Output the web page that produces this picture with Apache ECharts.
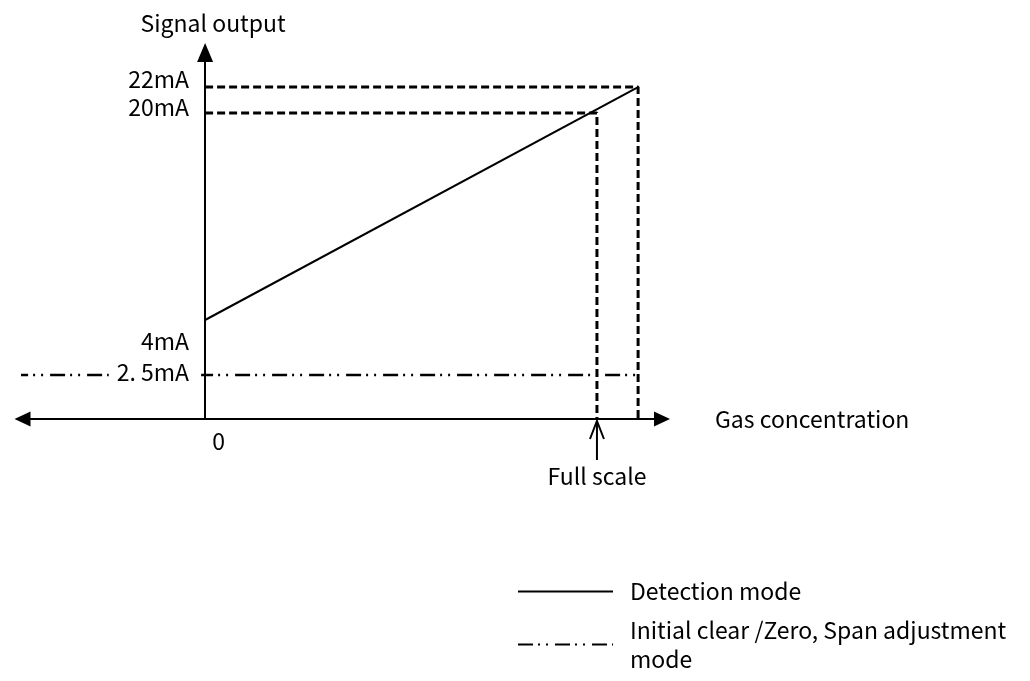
<!DOCTYPE html>
<html>
<head>
<meta charset="utf-8">
<script src="https://cdn.jsdelivr.net/npm/echarts@6/dist/echarts.min.js"></script>
<style>
  html, body { margin: 0; padding: 0; background: #fff; }
  #chart { width: 1030px; height: 681px; }
</style>
</head>
<body>
<div id="chart"></div>
<script>
// ---- data ----
const xTickValues = [0, 100];                 // % of full scale
const xTickLabels = ['0', 'Full scale'];
const yTickValues = [2.5, 4, 20, 22];         // mA
const yTickLabels = ['2. 5mA', '4mA', '20mA', '22mA'];

const detectionX = [0, 110.5];
const detectionY = [4, 22];
const clearX = [-49, 110.5];
const clearY = [2.5, 2.5];
const guide20X = [0, 100, 100];
const guide20Y = [20, 20, -0.9];
const guide22X = [0, 110.5, 110.5];
const guide22Y = [22, 22, -0.9];

const seriesNames = ['Detection mode', 'Initial clear /Zero, Span adjustment mode'];
const fullScaleValue = 100;

const xRange = [-46.6, 116.6];
const yRange = [-0.9, 24.67];

const FONT = 'Noto Sans CJK JP';
const FS = 23;
const GRID_LEFT = 22.5;
const pairs = (xs, ys) => xs.map((x, i) => [x, ys[i]]);

const chart = echarts.init(document.getElementById('chart'), null, { renderer: 'canvas' });

const txt = (extra) => Object.assign({ fontFamily: FONT, fontSize: FS, color: '#000' }, extra);

const option = {
  backgroundColor: '#fff',
  animation: false,
  textStyle: { fontFamily: FONT, color: '#000' },
  grid: { left: GRID_LEFT, right: 368, top: 52.5, bottom: 262, containLabel: false, outerBoundsMode: 'none' },
  xAxis: {
    type: 'value',
    min: xRange[0], max: xRange[1],
    name: 'Gas concentration',
    nameLocation: 'end',
    nameGap: 53,
    nameTextStyle: txt({ padding: [0, 0, 12, 0] }),
    axisLine: { onZero: false, symbol: ['triangle', 'triangle'], symbolSize: [15, 16],
      lineStyle: { color: '#000', width: 2 } },
    axisTick: { show: false },
    splitLine: { show: false },
    axisLabel: {
      customValues: xTickValues,
      margin: 9,
      formatter: (v) => {
        const i = xTickValues.indexOf(v);
        return i === 0 ? '{z|' + xTickLabels[i] + '}' : '{f|' + xTickLabels[i] + '}';
      },
      rich: {
        z: txt({ lineHeight: 26, padding: [0, 0, 0, 27] }),
        f: txt({ lineHeight: 26, padding: [70, 0, 0, 0] })
      }
    }
  },
  yAxis: [
    {
      type: 'value',
      position: 'left',
      z: 10,
      min: yRange[0], max: yRange[1],
      breaks: [{ start: 2.5, end: 4, gap: 4.25 }],
      breakArea: { show: false, itemStyle: { opacity: 0, borderColor: 'transparent' } },
      name: 'Signal output',
      nameLocation: 'end',
      nameGap: 16,
      nameTextStyle: txt({ lineHeight: 26, padding: [0, 0, 0, 16] }),
      axisLine: { show: true, onZero: true, symbol: ['none', 'triangle'], symbolSize: [16, 19],
        lineStyle: { color: '#000', width: 2 } },
      axisTick: { show: false },
      splitLine: { show: false },
      axisLabel: {
        customValues: yTickValues,
        margin: 4,
        formatter: (v) => {
          const i = yTickValues.indexOf(v);
          return '{s' + i + '|' + yTickLabels[i] + '}';
        },
        rich: {
          s0: txt({ backgroundColor: '#fff', padding: [0, 12, 6, 8] }),
          s1: txt({ padding: [42, 12, 0, 0] }),
          s2: txt({ padding: [0, 12, 12, 0] }),
          s3: txt({ padding: [0, 12, 16, 0] })
        }
      }
    },
    {
      // continuous vertical axis line (bridges the scale break)
      type: 'value',
      position: 'left',
      z: 9,
      min: 0, max: 1,
      axisLine: { show: true, onZero: true, onZeroAxisIndex: 0,
        lineStyle: { color: '#000', width: 2 } },
      axisTick: { show: false },
      axisLabel: { show: false },
      splitLine: { show: false }
    }
  ],
  legend: [
    {
      data: [seriesNames[0]],
      left: 517, top: 577, padding: 0,
      itemWidth: 95, itemHeight: 14,
      itemStyle: { opacity: 0 },
      textStyle: txt({ lineHeight: 29, padding: [0, 0, 0, 12] })
    },
    {
      data: [seriesNames[1]],
      left: 517, top: 605, padding: 0,
      itemWidth: 95, itemHeight: 14,
      itemStyle: { opacity: 0 },
      formatter: () => 'Initial clear /Zero, Span adjustment\nmode',
      textStyle: txt({ lineHeight: 29, padding: [21, 0, 0, 12] })
    }
  ],
  series: [
    {
      name: seriesNames[0],
      type: 'line',
      data: pairs(detectionX, detectionY),
      symbol: 'none',
      lineStyle: { color: '#000', width: 2 },
      itemStyle: { color: '#000' },
      z: 3
    },
    {
      name: seriesNames[1],
      type: 'line',
      data: pairs(clearX, clearY),
      symbol: 'none',
      clip: false,
      lineStyle: { color: '#000', width: 2.5, type: [15, 5, 2, 6, 2, 7], cap: 'butt' },
      itemStyle: { color: '#000' },
      z: 2
    },
    {
      name: 'guide20',
      type: 'line',
      data: pairs(guide20X, guide20Y),
      symbol: 'none',
      lineStyle: { color: '#000', width: 3, type: [8, 4] },
      z: 2
    },
    {
      name: 'guide22',
      type: 'line',
      data: pairs(guide22X, guide22Y),
      symbol: 'none',
      lineStyle: { color: '#000', width: 3, type: [8, 4] },
      z: 2
    }
  ]
};

chart.setOption(option);

// keep the y tick labels beside the zero line (placed through the x scale)
const zeroPx = chart.convertToPixel({ xAxisIndex: 0 }, 0);
// "Full scale" pointer arrow, positioned through the axis scales
const px = chart.convertToPixel({ xAxisIndex: 0 }, fullScaleValue);
const axisY = chart.convertToPixel({ yAxisIndex: 0 }, yRange[0]);
chart.setOption({
  yAxis: [{ axisLabel: { margin: 4 - (zeroPx - GRID_LEFT) } }, {}],
  graphic: [
    { type: 'line', shape: { x1: px, y1: axisY + 2, x2: px, y2: axisY + 41 },
      style: { stroke: '#000', lineWidth: 2 } },
    { type: 'polyline', shape: { points: [[px - 7, axisY + 20], [px, axisY + 2], [px + 7, axisY + 20]] },
      style: { stroke: '#000', lineWidth: 2, fill: null } }
  ]
});
</script>
</body>
</html>
